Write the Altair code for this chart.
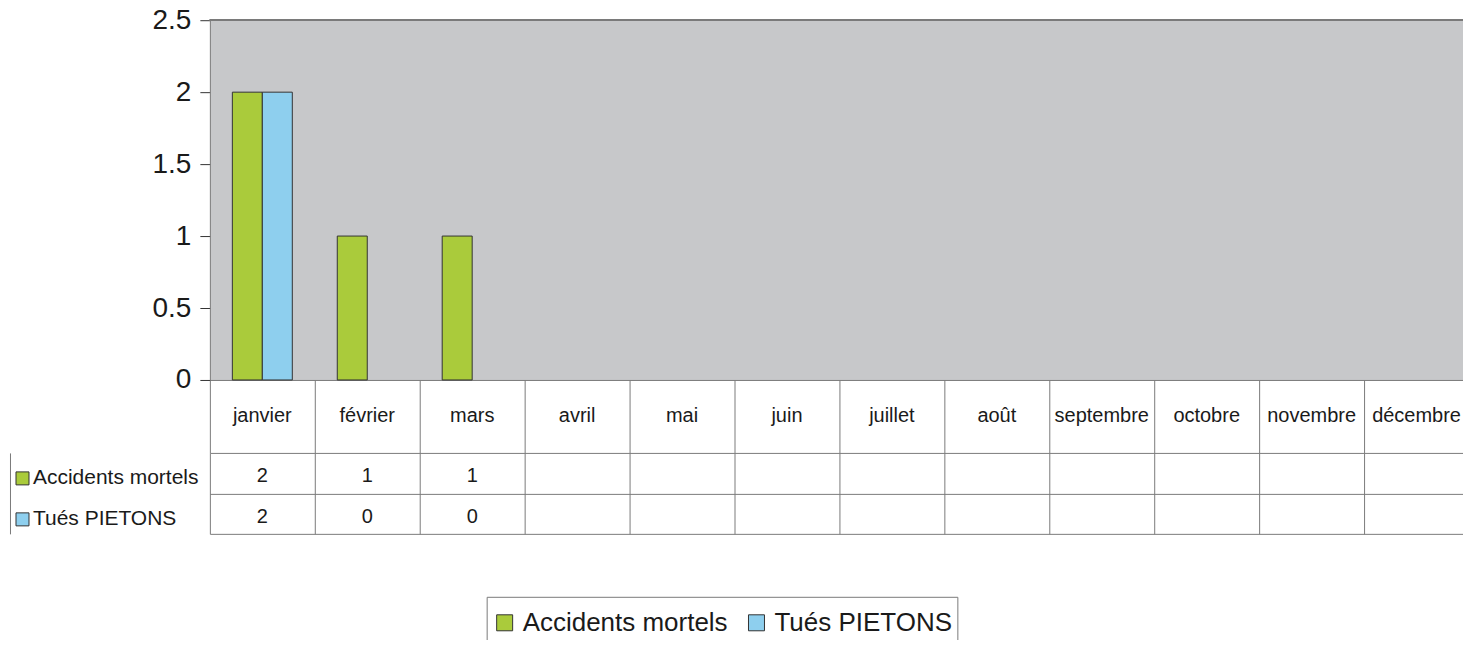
import altair as alt
import pandas as pd

months = ["janvier", "février", "mars", "avril", "mai", "juin", "juillet",
          "août", "septembre", "octobre", "novembre", "décembre"]
series = ["Accidents mortels", "Tués PIETONS"]
accidents = [2, 1, 1, None, None, None, None, None, None, None, None, None]
pietons = [2, 0, 0, None, None, None, None, None, None, None, None, None]
colors = ["#aacb3b", "#8ecfee"]
y_ticks = [0, 0.5, 1, 1.5, 2, 2.5]

FONT = "Liberation Sans"
GRAY = "#c7c8ca"
LINE = "#7a7a7a"
TXT = "#1a1a1a"

rows = []
for i, m in enumerate(months):
    rows.append({"month": m, "series": series[0], "value": accidents[i]})
    rows.append({"month": m, "series": series[1], "value": pietons[i]})
df = pd.DataFrame(rows)

color_scale = alt.Scale(domain=series, range=colors)

# ---------- top: bar chart ----------
x_top = alt.X("month:N", scale=alt.Scale(domain=months, paddingInner=0, paddingOuter=0),
              axis=alt.Axis(title=None, domainColor=LINE, tickColor=LINE, tickSize=73,
                            bandPosition=0, labelFont=FONT, labelFontSize=20, labelColor=TXT,
                            labelPadding=-37, labelBaseline="middle", labelAngle=0, grid=False))
y_top = alt.Y("value:Q", scale=alt.Scale(domain=[0, 2.5], nice=False),
              axis=alt.Axis(title=None, values=y_ticks, format="~g", tickSize=10,
                            tickColor="#333", domainColor=LINE, labelFont=FONT,
                            labelFontSize=28, labelColor=TXT, labelPadding=9, grid=False))

bars = alt.Chart(df).transform_filter("isValid(datum.value) && datum.value > 0").mark_bar(
    stroke="#333333", strokeWidth=1
).encode(
    x=x_top,
    xOffset=alt.XOffset("series:N", scale=alt.Scale(domain=series, paddingInner=0, paddingOuter=0.75)),
    y=y_top,
    color=alt.Color("series:N", scale=color_scale,
                    legend=alt.Legend(orient="none", legendX=277, legendY=577, direction="horizontal",
                                      title=" ", titleOrient="top", titleFontSize=8,
                                      titlePadding=0, symbolType="square", symbolSize=256,
                                      symbolStrokeColor="#333333", symbolStrokeWidth=1,
                                      symbolOpacity=1, labelFont=FONT, labelFontSize=26,
                                      labelColor=TXT, labelOffset=5, columnPadding=15,
                                      strokeColor=LINE, padding=5, fillColor="white",
                                      labelLimit=400)),
)
top_rule = alt.Chart(df).mark_rule(color=LINE).encode(y=alt.datum(2.5))
top = alt.layer(bars, top_rule).properties(
    width=1260, height=360, view=alt.ViewBackground(fill=GRAY, stroke="transparent"))

# ---------- bottom: data table ----------
x_tab = alt.X("month:N", scale=alt.Scale(domain=months, paddingInner=0, paddingOuter=0),
              axis=alt.Axis(title=None, labels=False, ticks=False, domain=False, grid=True,
                            gridColor=LINE, gridOpacity=1, tickBand="extent"))
y_tab = alt.Y("series:N", scale=alt.Scale(domain=series, paddingInner=0, paddingOuter=0),
              axis=alt.Axis(title=None, orient="left", offset=200, labels=False, ticks=False,
                            domain=True, domainColor=LINE, grid=True, gridColor=LINE,
                            gridOpacity=1, tickBand="extent"))

vals = alt.Chart(df).transform_filter("isValid(datum.value)").mark_text(
    font=FONT, fontSize=20, color=TXT, dy=3
).encode(x=x_tab, y=y_tab, text="value:Q")

keys = alt.Chart(df).mark_square(opacity=0).encode(
    x=x_tab, y=y_tab,
    color=alt.Color("series:N", scale=color_scale,
                    legend=alt.Legend(orient="none", legendX=-198, legendY=15, direction="vertical",
                                      title=None, symbolType="square", symbolSize=169,
                                      symbolStrokeColor="#333333", symbolStrokeWidth=1,
                                      symbolOpacity=1, labelFont=FONT, labelFontSize=21,
                                      labelColor=TXT, labelOffset=0, rowPadding=19, padding=0,
                                      labelLimit=300)),
)
table = alt.layer(vals, keys).properties(
    width=1260, height=81, view=alt.ViewBackground(fill="white", stroke="transparent"))

chart = alt.vconcat(top, table, spacing=73, bounds="flush").resolve_legend(
    color="independent"
).properties(
    padding={"left": 1, "top": -3, "right": -7, "bottom": -2}
).configure(background="white")

chart.save("out.html", embed_options={"renderer": "svg", "actions": False})
